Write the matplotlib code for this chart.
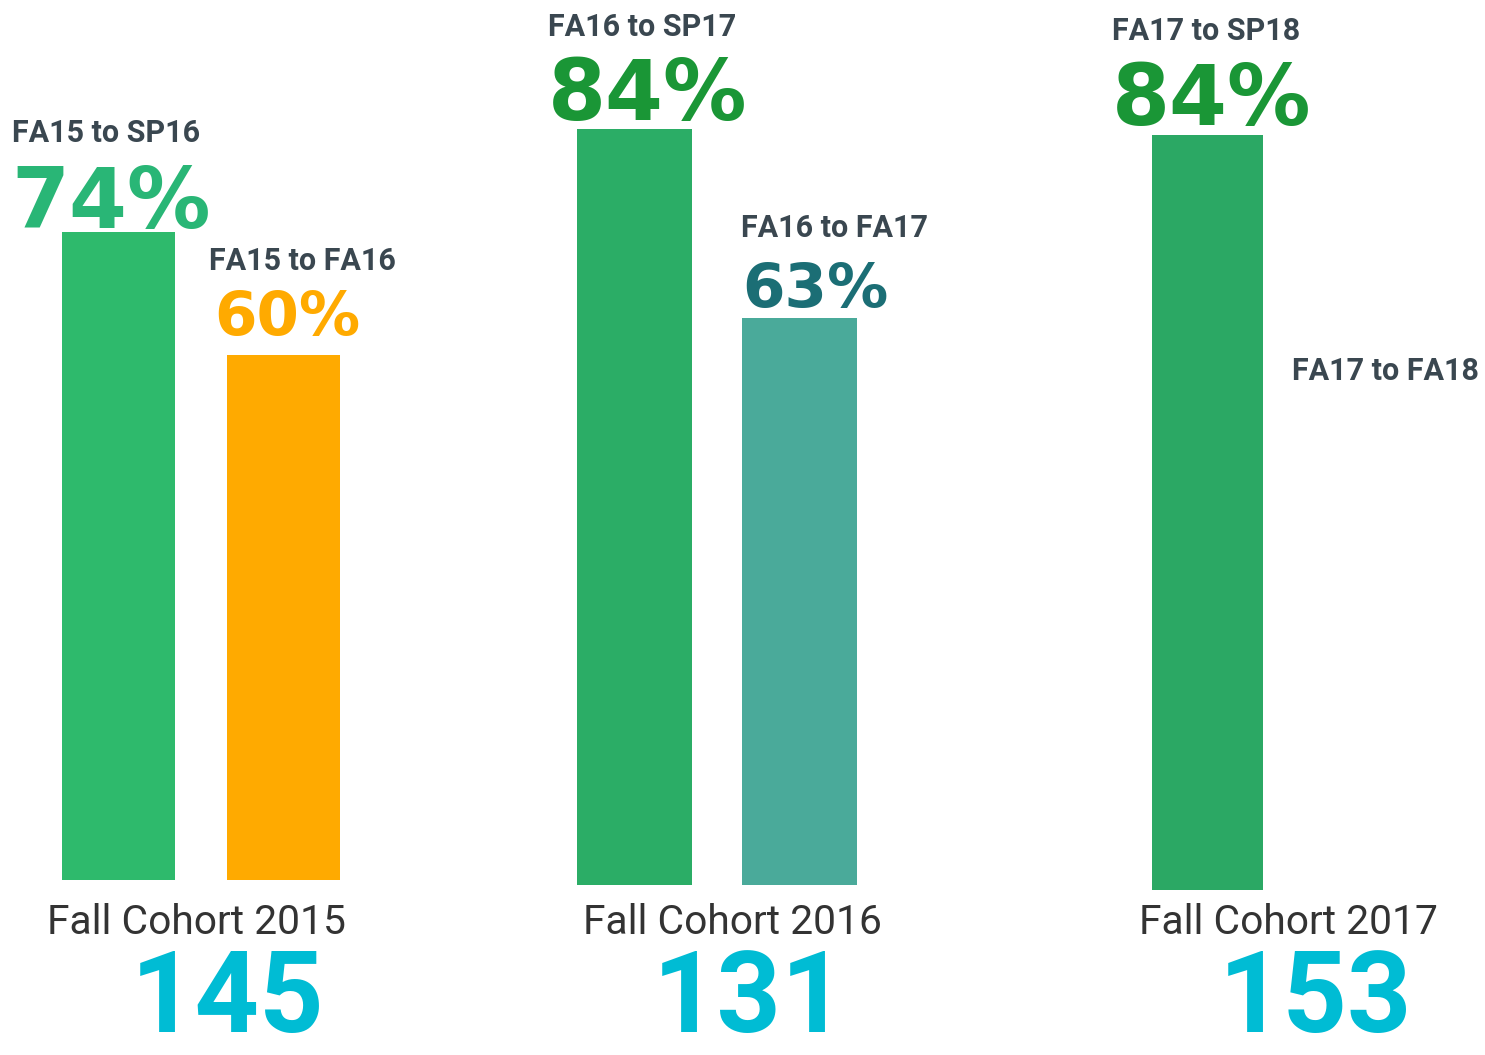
import matplotlib
matplotlib.use("Agg")
import matplotlib.pyplot as plt

# ---------------- data ----------------
cohorts = ["Fall Cohort 2015", "Fall Cohort 2016", "Fall Cohort 2017"]
cohort_sizes = [145, 131, 153]
spring_labels = ["FA15 to SP16", "FA16 to SP17", "FA17 to SP18"]
spring_rates = [74, 84, 84]
fall_labels = ["FA15 to FA16", "FA16 to FA17", "FA17 to FA18"]
fall_rates = [60, 63, None]

# ---------------- style / layout ----------------
W, H = 1485, 1055
DPI = 100
spring_bar_colors = ["#2EBA6C", "#2BAD66", "#2BA864"]
fall_bar_colors = ["#FFAA00", "#4AAA9A", "#4AAA9A"]
spring_txt_colors = ["#29B676", "#1A9636", "#1A9636"]
fall_txt_colors = ["#FFAA00", "#1B6E75", "#1B6E75"]
label_color = "#3A4750"
cohort_color = "#333333"
size_color = "#00BCD4"

# per group: axes left px, baseline px, px per percent, bar width (units)
ax_left = [36, 552, 1125]
ax_base = [880, 885, 890]
px_per = [8.757, 9.0, 8.99]
bar_w = [0.69, 0.70, 0.67]
UNIT = 165  # px per category slot

# text offsets in px (dx from bar left edge, dy above bar top)
pct_off_s = [(-50, 4), (-29, 9), (-40, 10)]
pct_off_f = [(-12, 20), (0, 11), (0, 0)]
lab_off_s = [(-50, 90), (-29, 93), (-40, 95)]
lab_off_f = [(-18, 85), (-1, 81), (-25, 510)]
pct_big = 60
pct_small = 44
cohort_x = [196, 732, 1288]
cohort_y = 934
size_x = [228, 750, 1316]

plt.rcParams["font.family"] = ["Roboto", "DejaVu Sans"]
fig = plt.figure(figsize=(W / DPI, H / DPI), dpi=DPI)
fig.patch.set_facecolor("white")

for g in range(3):
    left = ax_left[g] / W
    bottom = (H - ax_base[g]) / H
    height = 100 * px_per[g] / H
    width = 2 * UNIT / W
    ax = fig.add_axes([left, bottom, width, height])
    ax.set_xlim(-0.5, 1.5)
    ax.set_ylim(0, 100)
    ax.axis("off")
    w = bar_w[g]
    ax.bar([0], [spring_rates[g]], width=w, color=spring_bar_colors[g])
    if fall_rates[g] is not None:
        ax.bar([1], [fall_rates[g]], width=w, color=fall_bar_colors[g])

    # spring texts
    ax.annotate(spring_labels[g], xy=(0 - w / 2, spring_rates[g]),
                xytext=lab_off_s[g], textcoords="offset pixels",
                ha="left", va="baseline", fontsize=22, fontweight="bold",
                color=label_color, annotation_clip=False)
    ax.annotate(f"{spring_rates[g]}%", xy=(0 - w / 2, spring_rates[g]),
                xytext=pct_off_s[g], textcoords="offset pixels",
                ha="left", va="baseline", fontsize=pct_big, fontweight="bold",
                family="DejaVu Sans", color=spring_txt_colors[g],
                annotation_clip=False)
    # fall texts
    fy = fall_rates[g] if fall_rates[g] is not None else 0
    ax.annotate(fall_labels[g], xy=(1 - w / 2, fy),
                xytext=lab_off_f[g], textcoords="offset pixels",
                ha="left", va="baseline", fontsize=22, fontweight="bold",
                color=label_color, annotation_clip=False)
    if fall_rates[g] is not None:
        ax.annotate(f"{fall_rates[g]}%", xy=(1 - w / 2, fy),
                    xytext=pct_off_f[g], textcoords="offset pixels",
                    ha="left", va="baseline", fontsize=pct_small,
                    fontweight="bold", family="DejaVu Sans",
                    color=fall_txt_colors[g], annotation_clip=False)

    fig.text(cohort_x[g] / W, 1 - cohort_y / H, cohorts[g], ha="center",
             va="baseline", fontsize=29.3, color=cohort_color)
    fig.text(size_x[g] / W, 0.0, str(cohort_sizes[g]), ha="center",
             va="bottom", fontsize=81, fontweight="bold", color=size_color)

fig.savefig("out.png", dpi=DPI, facecolor="white")
